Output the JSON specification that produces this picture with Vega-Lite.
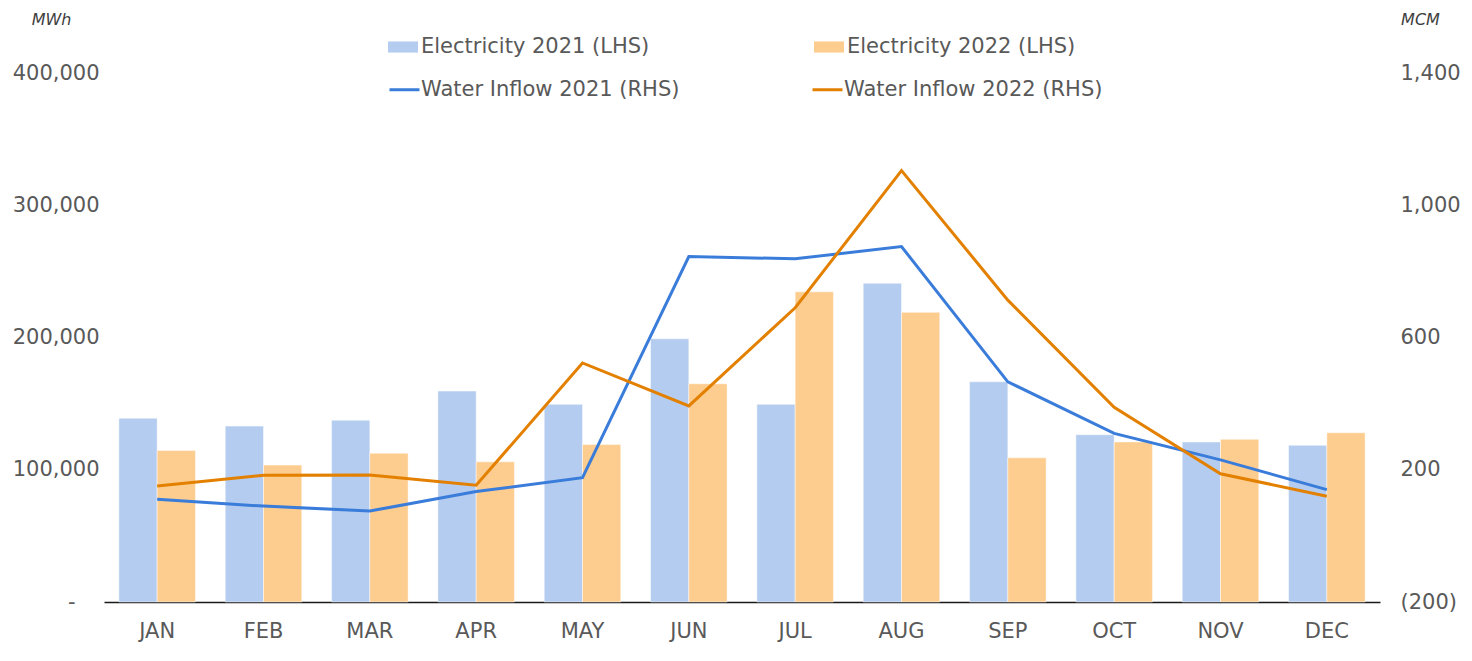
{
  "$schema": "https://vega.github.io/schema/vega-lite/v6.json",
  "width": 1276,
  "height": 529,
  "autosize": {"type": "none"},
  "padding": {"left": 104, "top": 73, "right": 92, "bottom": 59},
  "background": "white",
  "datasets": {
    "elec": [
      {"month": "JAN", "series": "Electricity 2021 (LHS)", "value": 139000},
      {"month": "FEB", "series": "Electricity 2021 (LHS)", "value": 133000},
      {"month": "MAR", "series": "Electricity 2021 (LHS)", "value": 137500},
      {"month": "APR", "series": "Electricity 2021 (LHS)", "value": 159500},
      {"month": "MAY", "series": "Electricity 2021 (LHS)", "value": 149500},
      {"month": "JUN", "series": "Electricity 2021 (LHS)", "value": 199000},
      {"month": "JUL", "series": "Electricity 2021 (LHS)", "value": 149500},
      {"month": "AUG", "series": "Electricity 2021 (LHS)", "value": 241000},
      {"month": "SEP", "series": "Electricity 2021 (LHS)", "value": 166500},
      {"month": "OCT", "series": "Electricity 2021 (LHS)", "value": 126500},
      {"month": "NOV", "series": "Electricity 2021 (LHS)", "value": 121000},
      {"month": "DEC", "series": "Electricity 2021 (LHS)", "value": 118500},
      {"month": "JAN", "series": "Electricity 2022 (LHS)", "value": 114500},
      {"month": "FEB", "series": "Electricity 2022 (LHS)", "value": 103500},
      {"month": "MAR", "series": "Electricity 2022 (LHS)", "value": 112500},
      {"month": "APR", "series": "Electricity 2022 (LHS)", "value": 106000},
      {"month": "MAY", "series": "Electricity 2022 (LHS)", "value": 119000},
      {"month": "JUN", "series": "Electricity 2022 (LHS)", "value": 165000},
      {"month": "JUL", "series": "Electricity 2022 (LHS)", "value": 234500},
      {"month": "AUG", "series": "Electricity 2022 (LHS)", "value": 219000},
      {"month": "SEP", "series": "Electricity 2022 (LHS)", "value": 109000},
      {"month": "OCT", "series": "Electricity 2022 (LHS)", "value": 121000},
      {"month": "NOV", "series": "Electricity 2022 (LHS)", "value": 123000},
      {"month": "DEC", "series": "Electricity 2022 (LHS)", "value": 128000}
    ],
    "water": [
      {"month": "JAN", "series": "Water Inflow 2021 (RHS)", "value": 111},
      {"month": "FEB", "series": "Water Inflow 2021 (RHS)", "value": 90},
      {"month": "MAR", "series": "Water Inflow 2021 (RHS)", "value": 75},
      {"month": "APR", "series": "Water Inflow 2021 (RHS)", "value": 134},
      {"month": "MAY", "series": "Water Inflow 2021 (RHS)", "value": 176},
      {"month": "JUN", "series": "Water Inflow 2021 (RHS)", "value": 845},
      {"month": "JUL", "series": "Water Inflow 2021 (RHS)", "value": 838},
      {"month": "AUG", "series": "Water Inflow 2021 (RHS)", "value": 875},
      {"month": "SEP", "series": "Water Inflow 2021 (RHS)", "value": 466},
      {"month": "OCT", "series": "Water Inflow 2021 (RHS)", "value": 310},
      {"month": "NOV", "series": "Water Inflow 2021 (RHS)", "value": 230},
      {"month": "DEC", "series": "Water Inflow 2021 (RHS)", "value": 140},
      {"month": "JAN", "series": "Water Inflow 2022 (RHS)", "value": 151},
      {"month": "FEB", "series": "Water Inflow 2022 (RHS)", "value": 183},
      {"month": "MAR", "series": "Water Inflow 2022 (RHS)", "value": 184},
      {"month": "APR", "series": "Water Inflow 2022 (RHS)", "value": 153},
      {"month": "MAY", "series": "Water Inflow 2022 (RHS)", "value": 523},
      {"month": "JUN", "series": "Water Inflow 2022 (RHS)", "value": 393},
      {"month": "JUL", "series": "Water Inflow 2022 (RHS)", "value": 690},
      {"month": "AUG", "series": "Water Inflow 2022 (RHS)", "value": 1105},
      {"month": "SEP", "series": "Water Inflow 2022 (RHS)", "value": 713},
      {"month": "OCT", "series": "Water Inflow 2022 (RHS)", "value": 389},
      {"month": "NOV", "series": "Water Inflow 2022 (RHS)", "value": 188},
      {"month": "DEC", "series": "Water Inflow 2022 (RHS)", "value": 120}
    ]
  },
  "config": {
    "view": {"stroke": null},
    "font": "DejaVu Sans",
    "axis": {
      "grid": false,
      "ticks": false,
      "tickSize": 0,
      "labelFont": "DejaVu Sans",
      "labelFontSize": 21,
      "labelColor": "#595959",
      "titleFont": "DejaVu Sans",
      "titleFontStyle": "italic",
      "titleFontWeight": "normal",
      "titleFontSize": 16,
      "titleColor": "#404040"
    },
    "legend": {
      "title": null,
      "orient": "none",
      "direction": "horizontal",
      "columns": 2,
      "padding": 0,
      "symbolSize": 900,
      "labelOffset": 3,
      "labelFont": "DejaVu Sans",
      "labelFontSize": 21,
      "labelColor": "#595959",
      "labelLimit": 500
    }
  },
  "encoding": {
    "x": {
      "field": "month",
      "type": "nominal",
      "sort": ["JAN", "FEB", "MAR", "APR", "MAY", "JUN", "JUL", "AUG", "SEP", "OCT", "NOV", "DEC"],
      "scale": {"paddingInner": 0.28, "paddingOuter": 0.14},
      "axis": {
        "title": null,
        "labelAngle": 0,
        "labelPadding": 18,
        "domain": true,
        "domainColor": "#1a1a1a",
        "domainWidth": 1.5
      }
    }
  },
  "layer": [
    {
      "data": {"name": "elec"},
      "mark": {"type": "bar", "stroke": "#ffffff", "strokeWidth": 0.8, "strokeOpacity": 0.6},
      "encoding": {
        "xOffset": {"field": "series", "type": "nominal", "sort": ["Electricity 2021 (LHS)", "Electricity 2022 (LHS)"]},
        "y": {
          "field": "value",
          "type": "quantitative",
          "scale": {"domain": [0, 400000], "nice": false},
          "axis": {
            "orient": "left",
            "values": [0, 100000, 200000, 300000, 400000],
            "domain": false,
            "labelPadding": {"condition": {"test": "datum.value === 0", "value": 29}, "value": 5},
            "labelExpr": "datum.value === 0 ? '-' : format(datum.value, ',')",
            "title": "MWh",
            "titleAngle": 0,
            "titleAlign": "center",
            "titleBaseline": "middle",
            "titleX": -53,
            "titleY": -54
          }
        },
        "fill": {
          "field": "series",
          "type": "nominal",
          "scale": {
            "domain": ["Electricity 2021 (LHS)", "Electricity 2022 (LHS)"],
            "range": ["#B4CCEF", "#FDCC8F"]
          },
          "legend": {
            "legendX": 284,
            "legendY": -41,
            "columnPadding": 164,
            "symbolType": "M-1,-0.37H1V0.37H-1Z",
            "symbolStrokeWidth": 0,
            "symbolOpacity": 1
          }
        }
      }
    },
    {
      "data": {"name": "water"},
      "mark": {"type": "line", "strokeWidth": 3},
      "encoding": {
        "y": {
          "field": "value",
          "type": "quantitative",
          "scale": {"domain": [-200, 1400], "nice": false, "zero": false},
          "axis": {
            "orient": "right",
            "values": [-200, 200, 600, 1000, 1400],
            "domain": false,
            "labelPadding": 20,
            "labelAlign": "left",
            "labelExpr": "datum.value < 0 ? '(' + format(-datum.value, ',') + ')' : format(datum.value, ',')",
            "title": "MCM",
            "titleAngle": 0,
            "titleAlign": "center",
            "titleBaseline": "middle",
            "titleX": 40,
            "titleY": -54
          }
        },
        "stroke": {
          "field": "series",
          "type": "nominal",
          "scale": {
            "domain": ["Water Inflow 2021 (RHS)", "Water Inflow 2022 (RHS)"],
            "range": ["#3A7CDA", "#E38000"]
          },
          "legend": {
            "legendX": 284,
            "legendY": 0,
            "columnPadding": 126,
            "labelOffset": 0,
            "symbolType": "stroke",
            "symbolStrokeWidth": 3,
            "symbolOpacity": 1
          }
        }
      }
    }
  ],
  "resolve": {"scale": {"y": "independent"}}
}
